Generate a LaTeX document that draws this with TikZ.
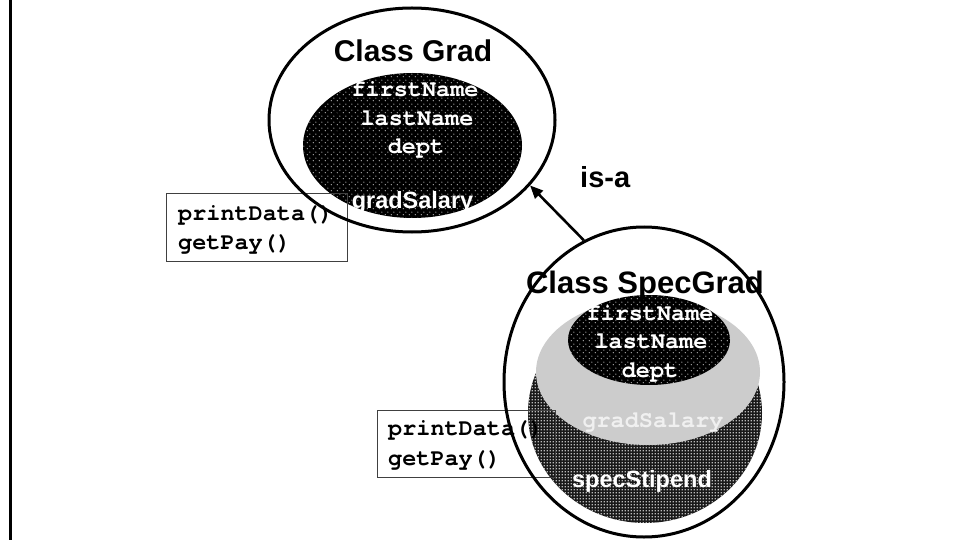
\documentclass[tikz,border=0pt]{standalone}
\usepackage{fontspec}
\setmainfont{Liberation Sans}
\newfontfamily\codefont{texgyrecursor}[Extension=.otf, UprightFont=*-regular, BoldFont=*-bold, Ligatures=NoCommon]
\usetikzlibrary{shapes.geometric,patterns,arrows.meta}

% staggered halftone dots for the dark member areas
\pgfdeclarepatternformonly{halftone}{\pgfpointorigin}{\pgfqpoint{6pt}{6pt}}{\pgfqpoint{6pt}{6pt}}{%
  \pgfpathcircle{\pgfqpoint{1.5pt}{1.5pt}}{0.8pt}%
  \pgfpathcircle{\pgfqpoint{4.5pt}{4.5pt}}{0.8pt}%
  \pgfusepath{fill}}
% fine square mesh for the subclass' own member area
\pgfdeclarepatternformonly{mesh}{\pgfpointorigin}{\pgfqpoint{3.3pt}{3.3pt}}{\pgfqpoint{3.3pt}{3.3pt}}{%
  \pgfpathrectangle{\pgfqpoint{0.9pt}{0.9pt}}{\pgfqpoint{1.5pt}{1.5pt}}%
  \pgfusepath{fill}}

\begin{document}
\begin{tikzpicture}[x=1pt,y=-1pt,
  outer/.style={ellipse, draw=black, line width=3pt, inner sep=0pt},
  dotted area/.style={ellipse, inner sep=0pt, fill=black,
    postaction={pattern=halftone, pattern color=gray!70}},
  mesh area/.style={ellipse, inner sep=0pt, fill=black!90,
    postaction={pattern=mesh, pattern color=gray!55}},
  member/.style={font=\codefont\bfseries\fontsize{23.5}{28}\selectfont,
    text=white, inner sep=0pt, anchor=base},
  title/.style={font=\bfseries\fontsize{30}{36}\selectfont, inner sep=0pt, anchor=base},
  label/.style={font=\bfseries\fontsize{23.5}{28}\selectfont, inner sep=0pt, anchor=base},
  method/.style={font=\codefont\bfseries\fontsize{23.5}{28}\selectfont,
    inner sep=0pt, anchor=base west},
  methodbox/.style={draw=black!75, line width=0.9pt, inner sep=0pt, anchor=north west},
  isa/.style={line width=2.6pt, -{Triangle[length=13pt,width=11pt]}}]
\useasboundingbox (0,0) rectangle (958,540);

% ---------- class Grad ----------
\node[dotted area, minimum width=219pt, minimum height=145pt] (gradmem) at (412.5,145.5) {};
\node[ellipse, draw=black, line width=0.6pt, inner sep=0pt,
      minimum width=163pt, minimum height=77pt] (gradinh) at (416.5,121.5) {};
\node[member] (g1) at (415,97) {firstName};
\node[member] (g2) at (417,125.5) {lastName};
\node[member] (g3) at (416,154) {dept};
\node[label, text=white] (g4) at (412.5,208) {gradSalary};
\node[title] (gradtitle) at (413,62) {Class Grad};

\node[methodbox, minimum width=181pt, minimum height=68pt] (box1) at (166,193) {};
\node[method] (m1) at (178,221) {printData()};
\node[method] (m2) at (178,249.5) {getPay()};

\node[outer, minimum width=286pt, minimum height=224pt] (grad) at (412,120) {};

% ---------- class SpecGrad ----------
\node[mesh area, minimum width=234pt, minimum height=220pt] (specown) at (645,413) {};
\node[ellipse, inner sep=0pt, fill=gray!40,
      minimum width=224pt, minimum height=146pt] (specmid) at (648,372) {};
\node[dotted area, minimum width=162pt, minimum height=90pt] (spectop) at (649,340) {};
\node[member] (s1) at (650,320) {firstName};
\node[member] (s2) at (651,348.5) {lastName};
\node[member] (s3) at (650,377) {dept};
\node[member, text=gray!12] (s4) at (653,427) {gradSalary};
\node[label, text=white] (s5) at (642,487) {specStipend};
\node[title, font=\bfseries\fontsize{31}{36}\selectfont] (spectitle) at (645,293) {Class SpecGrad};

\node[methodbox, minimum width=178pt, minimum height=67pt] (box2) at (377,410) {};
\node[method] (n1) at (388,435) {printData()};
\node[method] (n2) at (388,465) {getPay()};

\node[outer, minimum width=280pt, minimum height=310pt] (spec) at (644,382) {};

% ---------- inheritance ----------
\draw[isa] (spec.113) -- (grad.-29.5);
\node[title, font=\bfseries\fontsize{29}{34}\selectfont, anchor=base west] (isalabel) at (580,188) {is-a};

% left rule
\coordinate (ruletop) at (10.5,0);
\coordinate (rulebot) at (10.5,540);
\draw[line width=3pt] (ruletop) -- (rulebot);
\end{tikzpicture}
\end{document}
